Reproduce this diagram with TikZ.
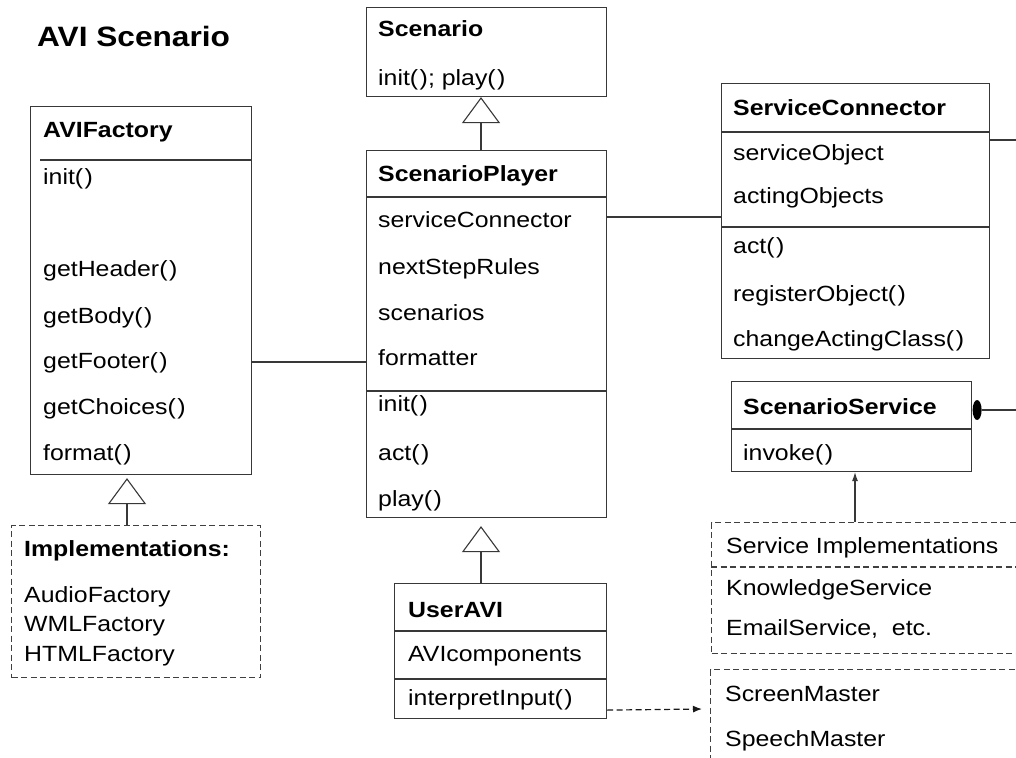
\documentclass[tikz,border=0pt]{standalone}
\usepackage{fontspec}
\setmainfont{Liberation Sans}[FakeStretch=1.13]
\usetikzlibrary{arrows.meta,calc,shapes.geometric}
\newcommand\pp{(\kern1.5pt)}
\tikzset{
  ln/.style={draw=black!78, line width=1.1pt},
  box/.style={ln, rectangle, inner sep=0pt, anchor=north west, fill=none},
  dsh/.style={draw=black!75, line width=1.1pt, dash pattern=on 6pt off 3.5pt},
  dbox/.style={dsh, rectangle, inner sep=0pt, anchor=north west},
  txt/.style={anchor=base west, inner sep=0pt, font=\fontsize{22}{26}\selectfont},
  btxt/.style={txt, font=\fontsize{22}{26}\selectfont\bfseries},
  gen/.style={ln, -{Triangle[open, length=26pt, width=38pt, line width=1.1pt]}},
  dep/.style={draw=black!90, line width=1.2pt, dash pattern=on 6pt off 3.5pt, -{Latex[length=9pt, width=7pt]}},
  solidarr/.style={ln, -{Latex[length=9pt, width=6pt]}}
}
\begin{document}
\begin{tikzpicture}[x=1pt, y=-1pt]
\useasboundingbox (0,0) rectangle (1016,757);
\clip (0,0) rectangle (1016,757);
\fill[white] (0,0) rectangle (1016,757);

% title
\node[anchor=base west, inner sep=0pt, font=\fontsize{28}{32}\selectfont\bfseries] (title) at (37,47) {AVI Scenario};

% AVIFactory
\node[box, minimum width=221pt, minimum height=368pt] (avif) at (30,106) {};
\draw[ln] (40,160) -- (251,160);
\node[btxt] (avif-h) at (43,137) {AVIFactory};
\node[txt] (avif-1) at (43,184) {init\pp};
\node[txt] (avif-2) at (43,276) {getHeader\pp};
\node[txt] (avif-3) at (43,323) {getBody\pp};
\node[txt] (avif-4) at (43,368) {getFooter\pp};
\node[txt] (avif-5) at (43,414) {getChoices\pp};
\node[txt] (avif-6) at (43,460) {format\pp};

% Implementations
\node[dbox, minimum width=249pt, minimum height=152pt] (impl) at (11,525) {};
\node[btxt] (impl-h) at (24,556) {Implementations:};
\node[txt] (impl-1) at (24,602) {AudioFactory};
\node[txt] (impl-2) at (24,631) {WMLFactory};
\node[txt] (impl-3) at (24,661) {HTMLFactory};

% Scenario
\node[box, minimum width=240pt, minimum height=89pt] (scen) at (366,7) {};
\node[btxt] (scen-h) at (378,37) {Scenario};
\node[txt] (scen-1) at (378,86) {init\pp; play\pp};

% ScenarioPlayer
\node[box, minimum width=240pt, minimum height=367pt] (sp) at (366,150) {};
\draw[ln] (366,197) -- (606,197);
\draw[ln] (366,391) -- (606,391);
\node[btxt] (sp-h) at (378,181) {ScenarioPlayer};
\node[txt] (sp-1) at (378,227) {serviceConnector};
\node[txt] (sp-2) at (378,274) {nextStepRules};
\node[txt] (sp-3) at (378,320) {scenarios};
\node[txt] (sp-4) at (378,365) {formatter};
\node[txt] (sp-5) at (378,411) {init\pp};
\node[txt] (sp-6) at (378,460) {act\pp};
\node[txt] (sp-7) at (378,506) {play\pp};

% UserAVI
\node[box, minimum width=212pt, minimum height=135pt] (ua) at (394,583) {};
\draw[ln] (394,631) -- (606,631);
\draw[ln] (394,679) -- (606,679);
\node[btxt] (ua-h) at (408,617) {UserAVI};
\node[txt] (ua-1) at (408,661) {AVIcomponents};
\node[txt] (ua-2) at (408,705) {interpretInput\pp};

% ServiceConnector
\node[box, minimum width=268pt, minimum height=275pt] (sc) at (721,83) {};
\draw[ln] (721,132) -- (989,132);
\draw[ln] (721,227) -- (989,227);
\node[btxt] (sc-h) at (733,115) {ServiceConnector};
\node[txt] (sc-1) at (733,160) {serviceObject};
\node[txt] (sc-2) at (733,203) {actingObjects};
\node[txt] (sc-3) at (733,253) {act\pp};
\node[txt] (sc-4) at (733,301) {registerObject\pp};
\node[txt] (sc-5) at (733,346) {changeActingClass\pp};

% ScenarioService
\node[box, minimum width=240pt, minimum height=90pt] (ss) at (731,381) {};
\draw[ln] (731,429) -- (971,429);
\node[btxt] (ss-h) at (743,414) {ScenarioService};
\node[txt] (ss-1) at (743,460) {invoke\pp};

% Service Implementations (dashed, runs off the right edge)
\node[dbox, minimum width=400pt, minimum height=131pt] (simpl) at (711,522) {};
\draw[dsh] (711,567) -- (1016,567);
\node[txt] (simpl-h) at (726,553) {Service Implementations};
\node[txt] (simpl-1) at (726,595) {KnowledgeService};
\node[txt] (simpl-2) at (726,635) {EmailService,\ \ etc.};

% ScreenMaster box (dashed, runs off the edges)
\node[dbox, minimum width=400pt, minimum height=131pt] (smbox) at (710,669) {};
\node[txt] (sm-1) at (725,701) {ScreenMaster};
\node[txt] (sm-2) at (725,746) {SpeechMaster};

% connectors
\draw[gen] ($(sp.north west)+(115,0)$) -- ($(scen.south west)+(115,0)$);
\draw[gen, shorten >=8pt] ($(ua.north west)+(87,0)$) -- ($(sp.south west)+(115,0)$);
\draw[gen, shorten >=3pt] ($(impl.north west)+(116,0)$) -- ($(avif.south west)+(97,0)$);

\draw[ln] ($(avif.north east)+(0,256)$) -- ($(sp.north west)+(0,212)$);
\draw[ln] ($(sp.north east)+(0,67)$) -- ($(sc.north west)+(0,134)$);

\coordinate (scout) at (1016,140);
\draw[ln] ($(sc.north east)+(0,57)$) -- (scout);

\node[ellipse, fill=black, minimum width=9pt, minimum height=20pt, inner sep=0pt] (dot) at ($(ss.north east)+(5,29)$) {};
\coordinate (ssout) at (1016,410);
\draw[ln] (dot) -- (ssout);

\coordinate (a1) at (855,522);
\draw[solidarr] (a1) -- (ss.south -| a1);

\draw[dep] ($(ua.south east)+(0,-9)$) -- ($(smbox.north west)+(-8,40)$);
\end{tikzpicture}
\end{document}
